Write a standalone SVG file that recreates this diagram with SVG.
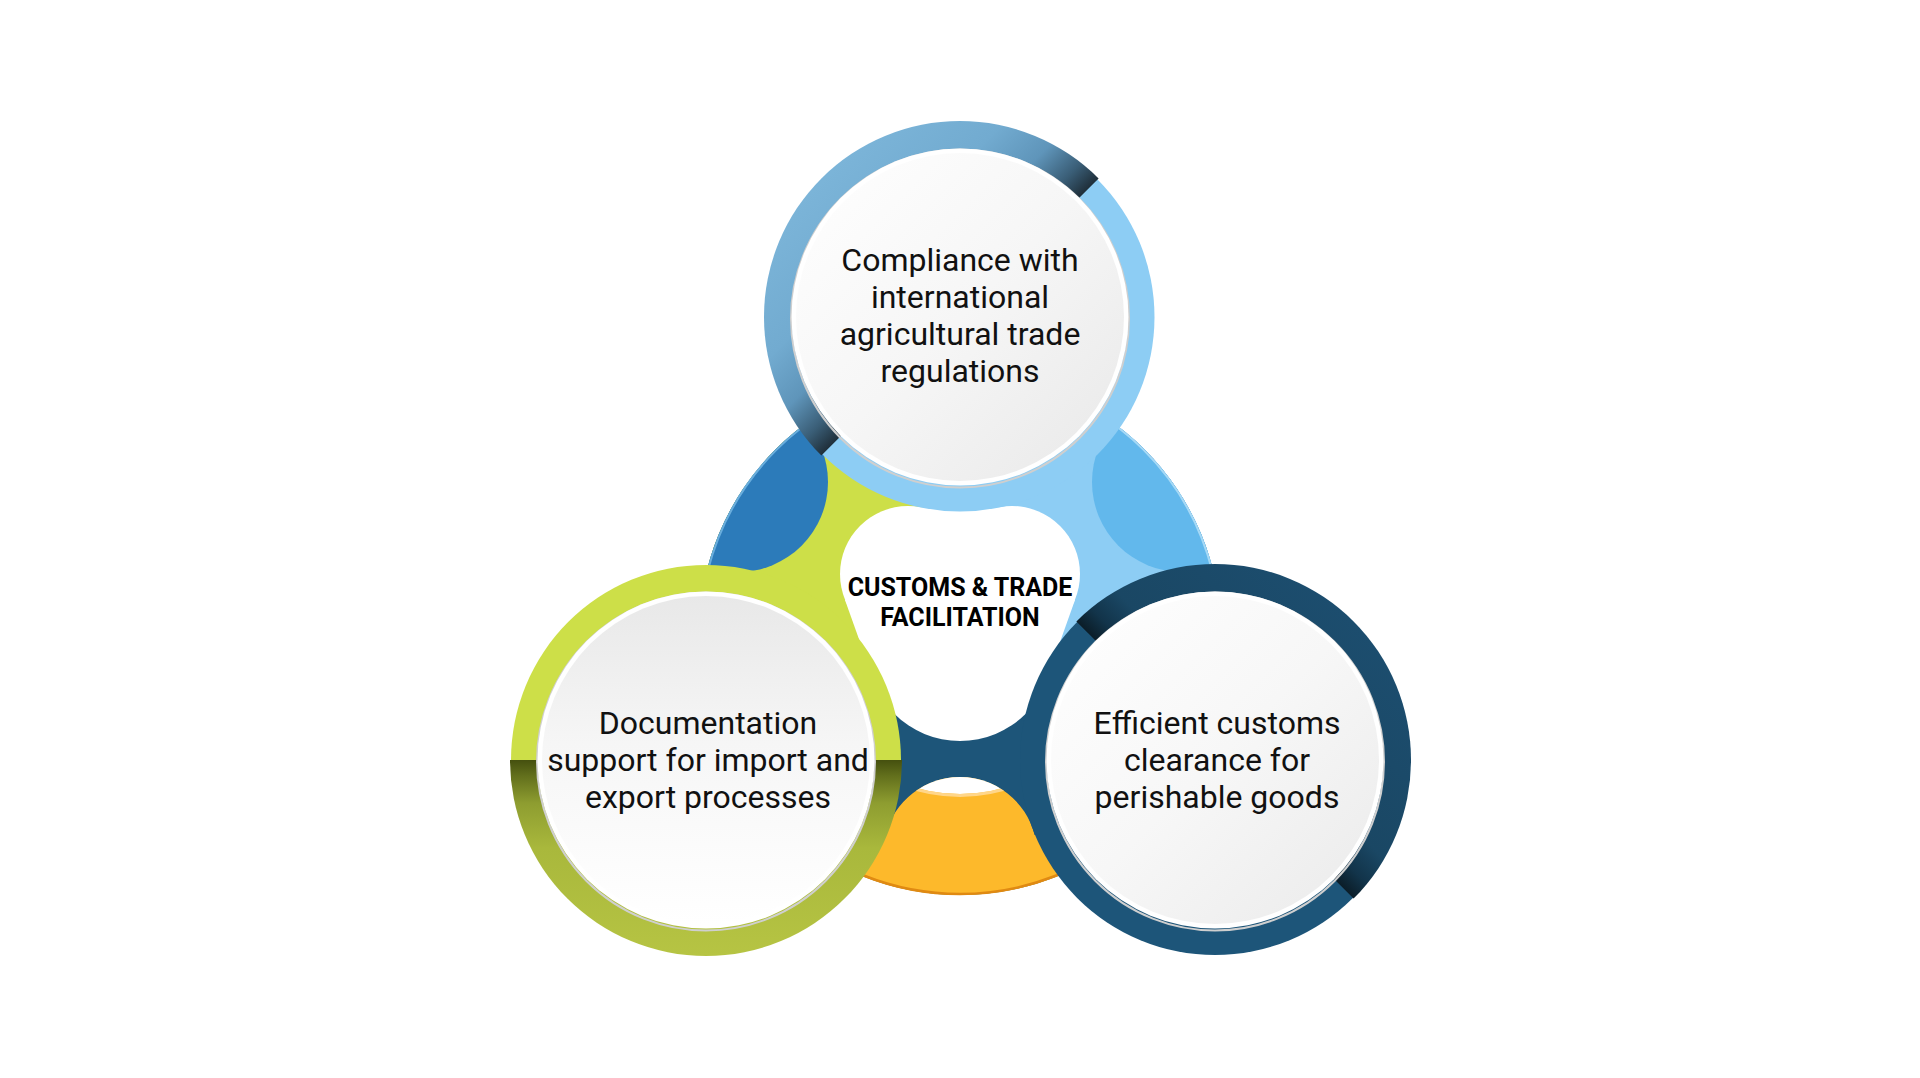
<svg xmlns="http://www.w3.org/2000/svg" width="1920" height="1078" viewBox="0 0 1920 1078">
<defs>
<style>
.t{font-family:Roboto,'Liberation Sans',Arial,sans-serif;font-size:32px;fill:#111;text-anchor:middle}
.c{font-family:Roboto,'Liberation Sans',Arial,sans-serif;font-size:25px;font-weight:700;fill:#000;text-anchor:middle}
.rim{fill:#fff}
.sh{fill:none;stroke:#cfcfcf;stroke-width:2}
</style>
<clipPath id="disk"><circle cx="960" cy="634" r="261"/></clipPath>
<clipPath id="dome"><circle cx="960" cy="854" r="77"/></clipPath>
<clipPath id="lensL"><circle cx="738" cy="482" r="90"/></clipPath>
<clipPath id="lensR"><circle cx="1182" cy="482" r="90"/></clipPath>
<clipPath id="orangeClip"><circle cx="960" cy="854" r="77"/><rect x="840" y="835" width="240" height="110"/></clipPath>
<linearGradient id="gTop" gradientUnits="userSpaceOnUse" x1="960" y1="317" x2="823" y2="180">
<stop offset="0" stop-color="#1F2F3A"/><stop offset="0.12" stop-color="#3A5E77"/><stop offset="0.3" stop-color="#5F95BA"/><stop offset="0.55" stop-color="#72ABD0"/><stop offset="1" stop-color="#7BB4D8"/>
</linearGradient>
<linearGradient id="gLeft" gradientUnits="userSpaceOnUse" x1="706" y1="760" x2="706" y2="956">
<stop offset="0" stop-color="#45500F"/><stop offset="0.08" stop-color="#626F1C"/><stop offset="0.22" stop-color="#8E9D30"/><stop offset="0.45" stop-color="#A9B83C"/><stop offset="1" stop-color="#B6C443"/>
</linearGradient>
<linearGradient id="gRight" gradientUnits="userSpaceOnUse" x1="1215" y1="760" x2="1353.6" y2="621.4">
<stop offset="0" stop-color="#0B1D28"/><stop offset="0.1" stop-color="#12344A"/><stop offset="0.25" stop-color="#1A4764"/><stop offset="1" stop-color="#1C4D6E"/>
</linearGradient>
<linearGradient id="iTop" x1="0" y1="0" x2="1" y2="1">
<stop offset="0" stop-color="#FFFFFF"/><stop offset="0.5" stop-color="#F6F6F6"/><stop offset="1" stop-color="#E8E8E8"/>
</linearGradient>
<linearGradient id="iLeft" x1="0" y1="0" x2="0" y2="1">
<stop offset="0" stop-color="#E8E8E8"/><stop offset="0.45" stop-color="#F6F6F6"/><stop offset="1" stop-color="#FFFFFF"/>
</linearGradient>
<linearGradient id="iRight" x1="0" y1="0" x2="1" y2="1">
<stop offset="0" stop-color="#FFFFFF"/><stop offset="0.5" stop-color="#F7F7F7"/><stop offset="1" stop-color="#EAEAEA"/>
</linearGradient>
</defs>
<rect width="1920" height="1078" fill="#fff"/>
<g id="hub">
<g clip-path="url(#disk)">
<rect x="600" y="300" width="720" height="700" fill="#1D5579"/>
<polygon points="960,634 960,0 0,0 0,1188" fill="#CDDF48"/>
<polygon points="960,634 960,0 1920,0 1920,1188" fill="#8DCDF4"/>
<circle cx="738" cy="482" r="90" fill="#2C7BBA"/>
<circle cx="1182" cy="482" r="90" fill="#62B8EC"/>
<g clip-path="url(#orangeClip)"><rect x="800" y="760" width="320" height="200" fill="#FDB92B"/></g>
</g>
<g clip-path="url(#dome)">
<circle cx="960" cy="634" r="160" fill="#fff"/>
<circle cx="960" cy="634" r="161.5" fill="none" stroke="#FFD68A" stroke-width="3"/>
</g>
<g clip-path="url(#lensL)"><circle cx="960" cy="634" r="260" fill="none" stroke="#6AAEDD" stroke-width="2"/></g>
<g clip-path="url(#lensR)"><circle cx="960" cy="634" r="260" fill="none" stroke="#A6D9F6" stroke-width="2"/></g>
<g clip-path="url(#orangeClip)"><circle cx="960" cy="634" r="260" fill="none" stroke="#E08A12" stroke-width="2.5"/></g>
<g id="center" fill="#fff">
<circle cx="908" cy="574" r="68"/>
<circle cx="1012" cy="574" r="68"/>
<circle cx="960" cy="648" r="93"/>
<circle cx="960" cy="600" r="100"/>
<polygon points="845,600 885,712 1035,712 1075,600"/>
<text class="c" x="960" y="595.5">CUSTOMS &amp; TRADE</text>
<text class="c" x="960" y="625.5">FACILITATION</text>
</g>
</g>
<g id="node-top">
<circle cx="960" cy="317" r="194.5" fill="#8DCDF4"/>
<path d="M821.4,455.6 A196,196 0 0 1 1098.6,178.4 Z" fill="url(#gTop)"/>
<circle cx="960" cy="318.5" r="169" class="sh"/>
<circle cx="960" cy="317" r="168.5" class="rim"/>
<circle cx="960" cy="317" r="164" fill="url(#iTop)"/>
<text class="t" x="960" y="271">Compliance with</text>
<text class="t" x="960" y="308">international</text>
<text class="t" x="960" y="345">agricultural trade</text>
<text class="t" x="960" y="382">regulations</text>
</g>
<g id="node-left">
<circle cx="706" cy="760" r="195" fill="#CDDF48"/>
<path d="M510,760 A196,196 0 0 0 902,760 Z" fill="url(#gLeft)"/>
<circle cx="706" cy="761.5" r="169" class="sh"/>
<circle cx="706" cy="760" r="168.5" class="rim"/>
<circle cx="706" cy="760" r="164" fill="url(#iLeft)"/>
<text class="t" x="708" y="734">Documentation</text>
<text class="t" x="708" y="771">support for import and</text>
<text class="t" x="708" y="808">export processes</text>
</g>
<g id="node-right">
<circle cx="1215" cy="760" r="195" fill="#1D5579"/>
<path d="M1076.4,621.4 A196,196 0 0 1 1353.6,898.6 Z" fill="url(#gRight)"/>
<circle cx="1215" cy="761.5" r="169" class="sh"/>
<circle cx="1215" cy="760" r="168.5" class="rim"/>
<circle cx="1215" cy="760" r="164" fill="url(#iRight)"/>
<text class="t" x="1217" y="734">Efficient customs</text>
<text class="t" x="1217" y="771">clearance for</text>
<text class="t" x="1217" y="808">perishable goods</text>
</g>
</svg>
